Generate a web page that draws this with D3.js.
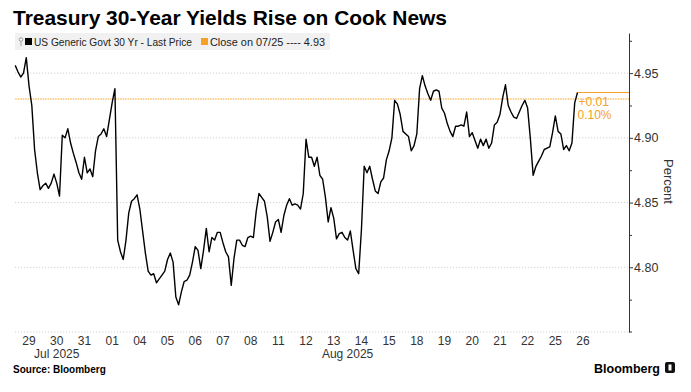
<!DOCTYPE html>
<html><head><meta charset="utf-8">
<script src="https://cdn.jsdelivr.net/npm/d3@7"></script>
<style>body{margin:0;background:#fff}svg{display:block}</style>
</head><body><svg id="c" width="691" height="392"></svg>
<script>
// ---------- data ----------
const title = "Treasury 30-Year Yields Rise on Cook News";
const seriesName = "US Generic Govt 30 Yr - Last Price";
const closeLabel = "Close on 07/25 ---- 4.93";
const days = ["29","30","31","01","04","05","06","07","08","11","12","13","14","15","18","19","20","21","22","25","26"];
const monthLabels = ["Jul 2025", "Aug 2025"];
const monthFirstDay = [0, 3];      // index in days where each month begins
const samplesPerDay = 10;
const yields = [
  4.956,4.951,4.947,4.950,4.962,4.940,4.925,4.891,4.873,4.860, // 29
  4.863,4.865,4.861,4.865,4.872,4.865,4.855,4.902,4.900,4.907, // 30
  4.896,4.888,4.881,4.873,4.868,4.885,4.873,4.876,4.870,4.890, // 31
  4.901,4.903,4.907,4.901,4.914,4.927,4.938,4.821,4.812,4.806, // 01
  4.821,4.842,4.851,4.853,4.856,4.845,4.828,4.811,4.797,4.794, // 04
  4.795,4.788,4.791,4.794,4.797,4.806,4.811,4.804,4.777,4.771, // 05
  4.781,4.789,4.790,4.794,4.804,4.816,4.813,4.799,4.813,4.830, // 06
  4.812,4.823,4.821,4.827,4.827,4.819,4.812,4.808,4.786,4.807, // 07
  4.821,4.821,4.817,4.816,4.823,4.824,4.823,4.843,4.857,4.854, // 08
  4.851,4.839,4.820,4.827,4.835,4.837,4.827,4.840,4.848,4.853, // 11
  4.848,4.849,4.848,4.845,4.857,4.899,4.885,4.885,4.878,4.885, // 12
  4.871,4.868,4.854,4.835,4.846,4.838,4.822,4.826,4.827,4.823, // 13
  4.821,4.828,4.813,4.799,4.795,4.829,4.878,4.873,4.878,4.868, // 14
  4.859,4.857,4.866,4.869,4.883,4.890,4.900,4.929,4.926,4.918, // 15
  4.905,4.903,4.901,4.890,4.894,4.903,4.938,4.948,4.940,4.934, // 18
  4.929,4.936,4.937,4.936,4.923,4.919,4.911,4.905,4.901,4.909, // 19
  4.909,4.910,4.909,4.920,4.901,4.904,4.898,4.892,4.899,4.894, // 20
  4.899,4.892,4.896,4.910,4.912,4.918,4.931,4.941,4.925,4.920, // 21
  4.916,4.915,4.920,4.925,4.929,4.923,4.899,4.871,4.878,4.882, // 22
  4.886,4.891,4.892,4.893,4.904,4.917,4.905,4.903,4.891,4.894, // 25
  4.890,4.896,4.927,4.935                                      // 26
];
const prevClose = 4.93;
const changeLabel = "+0.01";
const changePctLabel = "0.10%";
const yTicks = [4.80, 4.85, 4.90, 4.95];
const yMinorTicks = [4.775, 4.825, 4.875, 4.925, 4.975];
const yGrid = [4.75, 4.80, 4.85, 4.90, 4.95];

// ---------- layout ----------
const W = 691, H = 392;
const plotL = 15.2, plotR = 629, plotT = 33, plotB = 332;
const orange = "#f5a027", ink = "#333";
const font = "'Liberation Sans', Arial, sans-serif";

const svg = d3.select("#c");
const x = d3.scaleLinear().domain([0, 22.16]).range([plotL, plotR]);
const y = d3.scaleLinear().domain([4.75, 4.981]).range([plotB, plotT]);

// title
svg.append("text").attr("x", 13).attr("y", 25).text(title)
  .attr("font-family", font).attr("font-weight", 700).attr("font-size", 20.5).attr("fill", "#000")
  .attr("textLength", 434).attr("lengthAdjust", "spacingAndGlyphs");

// legend
const lg = svg.append("g");
lg.append("rect").attr("x", 15).attr("y", 33).attr("width", 315).attr("height", 17).attr("fill", "#f1f1f1");
lg.append("circle").attr("cx", 21).attr("cy", 39.5).attr("r", 1.8).attr("fill", "none").attr("stroke", "#999").attr("stroke-width", 0.9);
lg.append("line").attr("x1", 21).attr("x2", 21).attr("y1", 41.3).attr("y2", 46).attr("stroke", "#999").attr("stroke-width", 0.9);
lg.append("rect").attr("x", 25).attr("y", 38).attr("width", 7).attr("height", 7).attr("fill", "#000");
lg.append("text").attr("x", 34).attr("y", 46).text(seriesName)
  .attr("font-family", font).attr("font-size", 11).attr("fill", "#222")
  .attr("textLength", 158).attr("lengthAdjust", "spacingAndGlyphs");
lg.append("rect").attr("x", 201).attr("y", 38).attr("width", 7).attr("height", 7).attr("fill", orange);
lg.append("text").attr("x", 210).attr("y", 46).text(closeLabel)
  .attr("font-family", font).attr("font-size", 11).attr("fill", "#222")
  .attr("textLength", 115).attr("lengthAdjust", "spacingAndGlyphs");

// grid
svg.append("g").selectAll("line").data(yGrid).join("line")
  .attr("x1", plotL).attr("x2", plotR).attr("y1", d => y(d)).attr("y2", d => y(d))
  .attr("stroke", "#c8c8c8").attr("stroke-width", 1).attr("stroke-dasharray", "1,2");

// previous close line
svg.append("line").attr("x1", plotL).attr("x2", plotR).attr("y1", y(prevClose)).attr("y2", y(prevClose))
  .attr("stroke", orange).attr("stroke-width", 1.2).attr("stroke-dasharray", "1.5,1");

// series
const pts = yields.map((v, i) => [i / samplesPerDay, v]);
const last = pts[pts.length - 1];
svg.append("line").attr("x1", x(last[0])).attr("x2", plotR).attr("y1", y(last[1])).attr("y2", y(last[1]))
  .attr("stroke", orange).attr("stroke-width", 1);
svg.append("path").datum(pts)
  .attr("d", d3.line().x(d => x(d[0])).y(d => y(d[1])))
  .attr("fill", "none").attr("stroke", "#000").attr("stroke-width", 1.4).attr("stroke-linejoin", "round");

svg.append("text").attr("x", x(last[0]) + 1).attr("y", 106).text(changeLabel)
  .attr("font-family", font).attr("font-size", 12).attr("fill", orange);
svg.append("text").attr("x", x(last[0])).attr("y", 119).text(changePctLabel)
  .attr("font-family", font).attr("font-size", 12).attr("fill", orange);

// y axis
const ya = svg.append("g").attr("transform", `translate(${plotR},0)`)
  .call(d3.axisRight(y).tickValues(yTicks).tickFormat(d3.format(".2f")).tickSize(4).tickSizeOuter(0).tickPadding(1));
ya.select(".domain").attr("stroke", ink);
ya.selectAll(".tick line").attr("stroke", ink);
ya.selectAll("text").attr("font-family", font).attr("font-size", 12.5).attr("fill", ink);
const ym = svg.append("g").attr("transform", `translate(${plotR},0)`)
  .call(d3.axisRight(y).tickValues(yMinorTicks).tickFormat("").tickSize(3).tickSizeOuter(0));
ym.select(".domain").remove();
ym.selectAll(".tick line").attr("stroke", ink);
svg.append("line").attr("x1", plotR).attr("x2", plotR + 3).attr("y1", plotB).attr("y2", plotB).attr("stroke", ink);

svg.append("text").attr("transform", `translate(664,${(plotT + plotB) / 2 - 1}) rotate(90)`)
  .attr("text-anchor", "middle").text("Percent")
  .attr("font-family", font).attr("font-size", 13).attr("fill", ink);

// x axis labels
svg.append("g").selectAll("text").data(days).join("text")
  .attr("x", (d, i) => x(i + 0.5)).attr("y", 345).attr("text-anchor", "middle").text(d => d)
  .attr("font-family", font).attr("font-size", 12).attr("fill", ink);
svg.append("g").selectAll("text").data(monthLabels).join("text")
  .attr("x", (d, i) => {
    const a = monthFirstDay[i], b = i + 1 < monthFirstDay.length ? monthFirstDay[i + 1] : days.length;
    return x((a + b) / 2);
  })
  .attr("y", 358).attr("text-anchor", "middle").text(d => d)
  .attr("font-family", font).attr("font-size", 12).attr("fill", ink);

// footer
svg.append("text").attr("x", 13).attr("y", 373).text("Source: Bloomberg")
  .attr("font-family", font).attr("font-weight", 700).attr("font-size", 10).attr("fill", "#000");
svg.append("text").attr("x", 660).attr("y", 373).attr("text-anchor", "end").text("Bloomberg")
  .attr("font-family", font).attr("font-weight", 700).attr("font-size", 12.5).attr("fill", "#000");
svg.append("rect").attr("x", 665).attr("y", 362).attr("width", 10).attr("height", 11).attr("rx", 2).attr("fill", "#111");
svg.append("rect").attr("x", 668.5).attr("y", 364.5).attr("width", 3).attr("height", 6).attr("fill", "#fff");
</script></body></html>
